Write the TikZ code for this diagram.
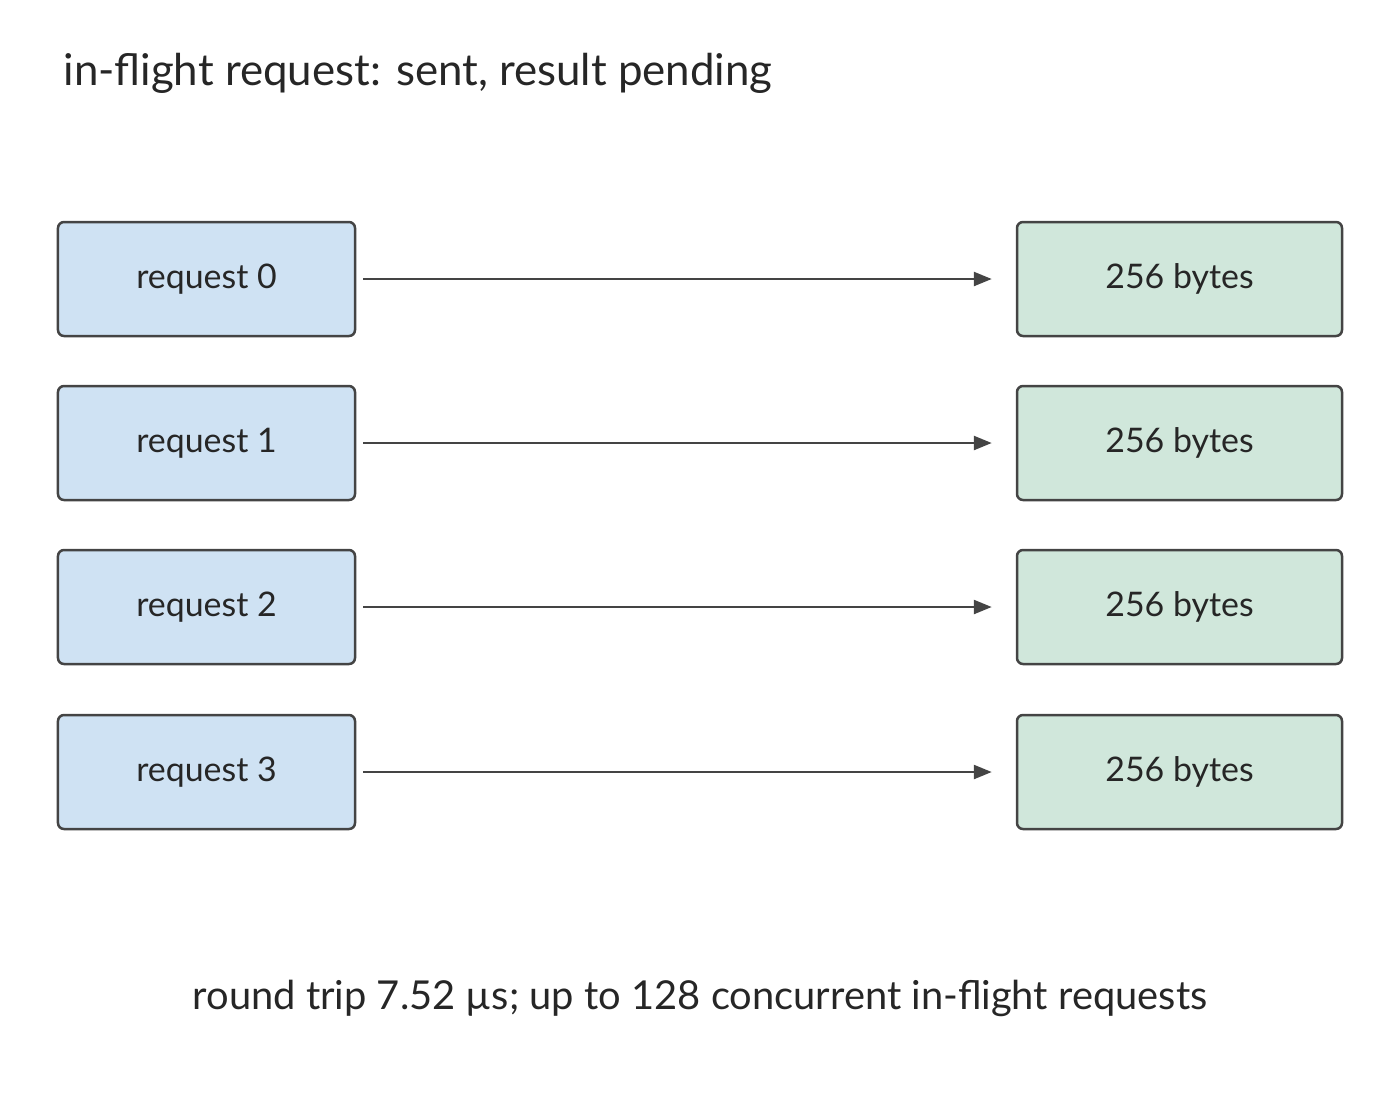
\documentclass[tikz,border=0pt]{standalone}
\usepackage{fontspec}
\setmainfont{Lato}
\usetikzlibrary{arrows.meta}
\definecolor{bfill}{HTML}{CFE2F3}
\definecolor{gfill}{HTML}{D0E7DB}
\definecolor{edge}{HTML}{444444}
\begin{document}
\begin{tikzpicture}[x=1bp,y=-1bp,
  box/.style={draw=edge,line width=2.5bp,rounded corners=6bp,minimum height=114bp,text=black!85,font=\fontsize{34}{40}\selectfont},
  req/.style={box,fill=bfill,minimum width=297bp},
  res/.style={box,fill=gfill,minimum width=325bp},
  arr/.style={draw=edge,line width=2.5bp,-{Triangle[length=18bp,width=14bp]}}]
\useasboundingbox (0,0) rectangle (1400,1107);
\node[anchor=base west,font=\fontsize{44}{50}\selectfont,text=black!85] (title) at (60,85) {in-flight request: sent, result pending};
\foreach \i/\y in {0/279,1/443,2/607,3/772}{
  \node[req] (r\i) at (206.5,\y) {request \i};
  \node[res] (s\i) at (1179.5,\y) {256 bytes};
  \draw[arr] ([xshift=7bp]r\i.east) -- ([xshift=-24bp]s\i.west);
}
\node[font=\fontsize{40}{46}\selectfont,text=black!85] (foot) at (700,998) {round trip 7.52 µs; up to 128 concurrent in-flight requests};
\end{tikzpicture}
\end{document}
